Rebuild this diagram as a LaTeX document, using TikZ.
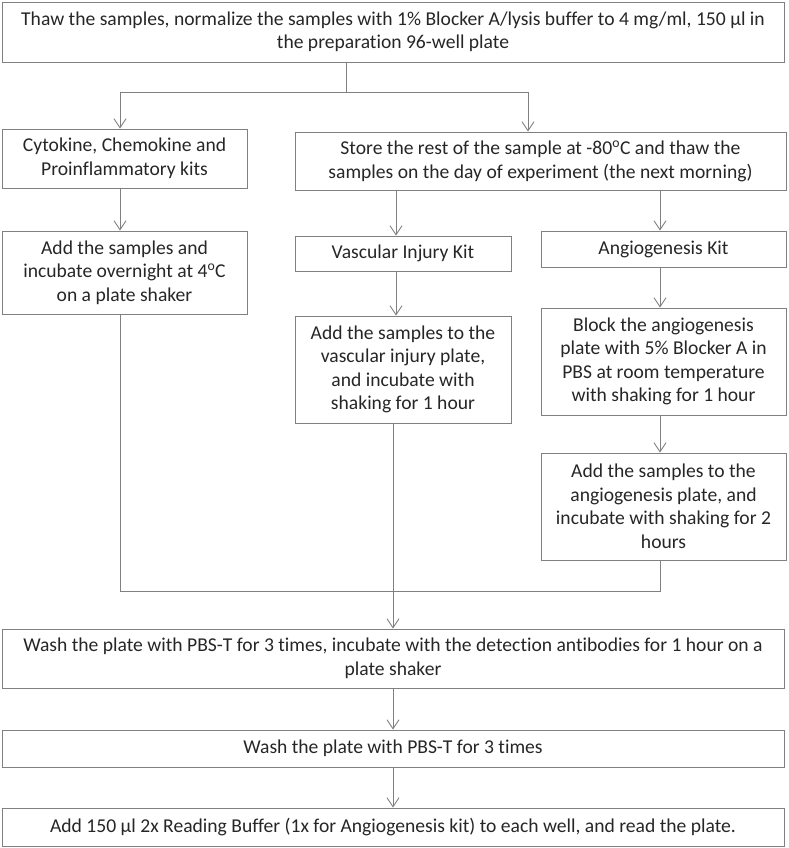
\documentclass[tikz,border=0pt]{standalone}
\usepackage{fontspec}
\setmainfont{Carlito}[Ligatures={NoCommon}]
\usetikzlibrary{arrows.meta}
\tikzset{
  box/.style={draw=black!50, line width=0.9pt, align=center, inner sep=0pt,
    font=\fontsize{19.6}{23.5}\selectfont, text=black!85},
  conn/.style={draw=black!50, line width=0.9pt},
  arr/.style={conn, -{Straight Barb[length=9pt,width=12pt,line width=0.9pt]}},
}
\begin{document}
\begin{tikzpicture}[x=1pt,y=-1pt]
\useasboundingbox (0,0) rectangle (788,848);
\node[box, minimum width=782, minimum height=60] (top) at (393,32)
  {Thaw the samples, normalize the samples with 1\% Blocker A/lysis buffer to 4 mg/ml, 150 µl in\\ the preparation 96-well plate};
\node[box, minimum width=245, minimum height=59] (cyto) at (124.5,158.5)
  {Cytokine, Chemokine and\\ Proinflammatory kits};
\node[box, minimum width=491, minimum height=58] (store) at (540.5,161)
  {Store the rest of the sample at -80\textsuperscript{o}C and thaw the\\ samples on the day of experiment (the next morning)};
\node[box, minimum width=245, minimum height=83] (addL) at (124.5,272.5)
  {Add the samples and\\ incubate overnight at 4\textsuperscript{o}C\\ on a plate shaker};
\node[box, minimum width=216, minimum height=35] (vasc) at (403,253.5)
  {Vascular Injury Kit};
\node[box, minimum width=245, minimum height=36] (angio) at (663.5,249)
  {Angiogenesis Kit};
\node[box, minimum width=216, minimum height=107] (addV) at (403,369.5)
  {Add the samples to the\\ vascular injury plate,\\ and incubate with\\ shaking for 1 hour};
\node[box, minimum width=245, minimum height=107] (block) at (663.5,361.5)
  {Block the angiogenesis\\ plate with 5\% Blocker A in\\ PBS at room temperature\\ with shaking for 1 hour};
\node[box, minimum width=245, minimum height=107] (addA) at (663.5,506.5)
  {Add the samples to the\\ angiogenesis plate, and\\ incubate with shaking for 2\\ hours};
\node[box, minimum width=782, minimum height=59] (wash) at (393,658.5)
  {Wash the plate with PBS-T for 3 times, incubate with the detection antibodies for 1 hour on a\\ plate shaker};
\node[box, minimum width=782, minimum height=37] (wash2) at (393,748.5)
  {Wash the plate with PBS-T for 3 times};
\node[box, minimum width=782, minimum height=38] (final) at (393,827)
  {Add 150 µl 2x Reading Buffer (1x for Angiogenesis kit) to each well, and read the plate.};
% split
\coordinate (sp) at (346,92);
\coordinate (spL) at (120,92);
\coordinate (spR) at (528,92);
\draw[conn] (top.south -| sp) -- (sp);
\draw[conn] (spL) -- (spR);
\draw[arr] (spL) -- (spL |- cyto.north);
\draw[arr] (spR) -- (spR |- store.north);
% left column
\coordinate (cL) at (120,0);
\draw[arr] (cyto.south -| cL) -- (addL.north -| cL);
% store branches
\coordinate (cV) at (396,0);
\coordinate (cA) at (660,0);
\draw[arr] (store.south -| cV) -- (vasc.north -| cV);
\draw[arr] (store.south -| cA) -- (angio.north -| cA);
\draw[arr] (vasc.south -| cV) -- (addV.north -| cV);
\draw[arr] (angio.south -| cA) -- (block.north -| cA);
\draw[arr] (block.south -| cA) -- (addA.north -| cA);
% merge
\coordinate (mg) at (0,591);
\draw[conn] (addL.south -| cL) -- (cL |- mg) -- (cA |- mg) -- (addA.south -| cA);
\coordinate (cM) at (393,0);
\draw[arr] (addV.south -| cM) -- (wash.north -| cM);
\draw[arr] (wash.south) -- (wash2.north);
\draw[arr] (wash2.south) -- (final.north);
\end{tikzpicture}
\end{document}
